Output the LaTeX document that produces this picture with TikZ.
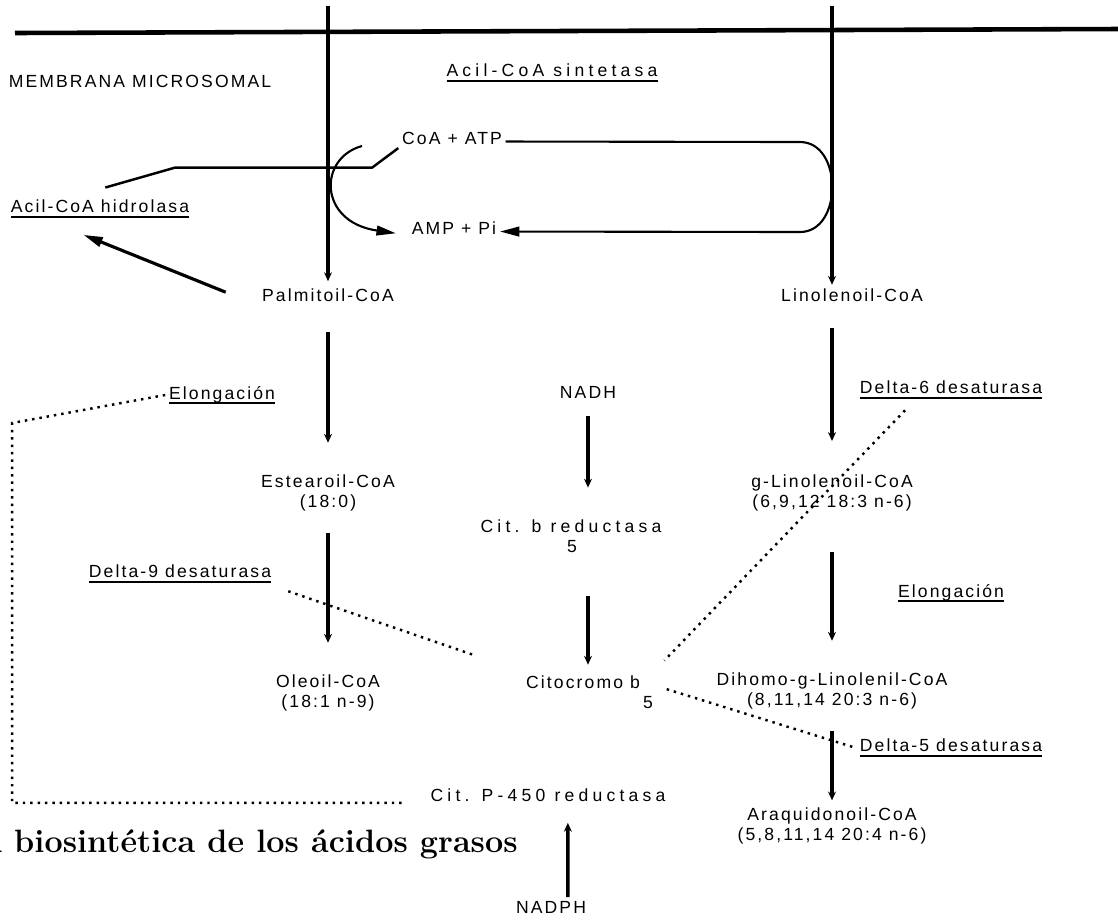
\documentclass[tikz,border=0pt]{standalone}
\usepackage{fontspec}
\newfontfamily\labelfont[LetterSpace=12]{Liberation Sans}
\newfontfamily\widefont[LetterSpace=24]{Liberation Sans}
\usetikzlibrary{arrows.meta,positioning}
\newsavebox\enzbox
\newcommand{\enzname}[1]{\sbox\enzbox{#1}\rlap{\usebox\enzbox}\rule[-2.8pt]{\wd\enzbox}{0.9pt}}
\tikzset{
	lbl/.style={font=\labelfont\fontsize{10}{11.5}\selectfont,align=center,inner sep=2pt},
	widelbl/.style={lbl,font=\widefont\fontsize{10}{11.5}\selectfont},
	pathway/.style={line width=2.1pt,-{Stealth[length=5pt,width=4.5pt]}},
	dots/.style={line width=1.4pt,dash pattern=on 1.4pt off 2.8pt},
	loopline/.style={line width=1.2pt},
	bigtip/.style={-{Triangle[length=11pt,width=5.5pt]}}
}

\begin{document}
\begin{tikzpicture}[x=0.02cm,y=-0.02cm]
	\useasboundingbox (0,0) rectangle (1118,921);
	\draw[line width=2.6pt] (15,33) -- (1118,29);
	\coordinate (topl) at (328,6);
	\coordinate (topr) at (832,6);
	\node[lbl](memb) at (140,81){MEMBRANA MICROSOMAL};
	\node[widelbl](sint) at (552,73){\enzname{Acil-CoA sintetasa}};
	\node[lbl](coa) at (452,138){CoA + ATP};
	\node[lbl](amp) at (454,228){AMP + Pi};
	\node[lbl](hidro) at (100,209){\enzname{Acil-CoA hidrolasa}};
	\node[lbl](palm) at (328,295){Palmitoil-CoA};
	\node[lbl](linol) at (852,295){Linolenoil-CoA};
	\node[lbl](elongl) at (222,395){\enzname{Elongación}};
	\node[lbl](nadh) at (588,392){NADH};
	\node[lbl](delta6) at (951,390){\enzname{Delta-6 desaturasa}};
	\node[lbl](estear) at (328,493){Estearoil-CoA\\(18:0)};
	\node[lbl](glin) at (832,493){g-Linolenoil-CoA\\(6,9,12 18:3 n-6)};
	\node[widelbl](citbred) at (571,526){Cit. b reductasa};
	\node[lbl](redsub) at (572,547){5};
	\node[lbl](delta9) at (180,574){\enzname{Delta-9 desaturasa}};
	\node[lbl](elongr) at (951,593){\enzname{Elongación}};
	\node[lbl](oleo) at (328,693){Oleoil-CoA\\(18:1 n-9)};
	\node[lbl](citb) at (583,682){Citocromo b};
	\node[lbl](citbsub) at (648,703){5};
	\node[lbl](dihomo) at (832,691){Dihomo-g-Linolenil-CoA\\(8,11,14 20:3 n-6)};
	\node[lbl](delta5) at (951,748){\enzname{Delta-5 desaturasa}};
	\node[widelbl](p450) at (548,795){Cit. P-450 reductasa};
	\node[lbl](araq) at (832,826){Araquidonoil-CoA\\(5,8,11,14 20:4 n-6)};
	\node[lbl](nadph) at (551,907){NADPH};
	\node[anchor=base east,inner sep=0pt,font=\fontsize{18.4}{22}\selectfont\bfseries](title) at (518,852){a biosintética de los ácidos grasos};
	\draw[pathway,shorten >=2pt] (topl) -- (palm);
	\draw[pathway] (topr) -- (topr |- linol.north);
	\draw[pathway,shorten <=15pt,shorten >=16pt] (palm) -- (estear);
	\draw[pathway,shorten <=10pt,shorten >=16pt] (estear) -- (oleo);
	\draw[pathway,shorten <=13pt,shorten >=17pt] (linol.south -| topr) -- (glin);
	\draw[pathway,shorten <=21pt,shorten >=16pt] (glin) -- (dihomo);
	\draw[pathway,shorten <=10pt,shorten >=2pt] (dihomo) -- (araq);
	\draw[pathway,shorten <=8pt,shorten >=16pt] (nadh) -- (nadh |- citbred.north);
	\draw[pathway,shorten <=22pt,shorten >=4pt] (redsub.south -| nadh) -- (citb.north -| nadh);
	\draw[pathway,shorten >=10pt] ([xshift=9.6pt]nadph.north) -- ([xshift=11.3pt]p450.south);
	\coordinate (loopa) at (800,142);
	\coordinate (loopb) at (800,232);
	\draw[loopline,bigtip] ([yshift=-2pt]coa.east) -- (loopa) .. controls +(43,0) and +(43,0) .. (loopb) -- ([yshift=-2pt]amp.east);
	\draw[line width=1.4pt] ([xshift=3pt,yshift=5pt]hidro.north) -- ++(70,-20) -- ++(197,0) -- (coa.south west);
	\coordinate (swirl) at (362,146);
	\draw[loopline,bigtip,shorten >=7pt] (swirl) .. controls (318,158) and (318,222) .. ([yshift=-4pt]amp.west);
	\draw[line width=1.8pt,bigtip,shorten <=20pt,shorten >=20pt] (palm.south west) -- ([xshift=-28pt]hidro.south);
	\draw[dots,shorten >=13pt] (elongl.west) -- ++(-153,28) |- ([yshift=-4.5pt]p450.west);
	\draw[dots,shorten <=8pt,shorten >=30pt] (delta9.south east) -- (citb.north west);
	\draw[dots,shorten <=6pt,shorten >=17pt] ([xshift=-22pt]delta6.south) -- (citb.east);
	\draw[dots,shorten <=13.7pt,shorten >=2pt] (citb.east) -- (delta5.west);
\end{tikzpicture}
\end{document}
